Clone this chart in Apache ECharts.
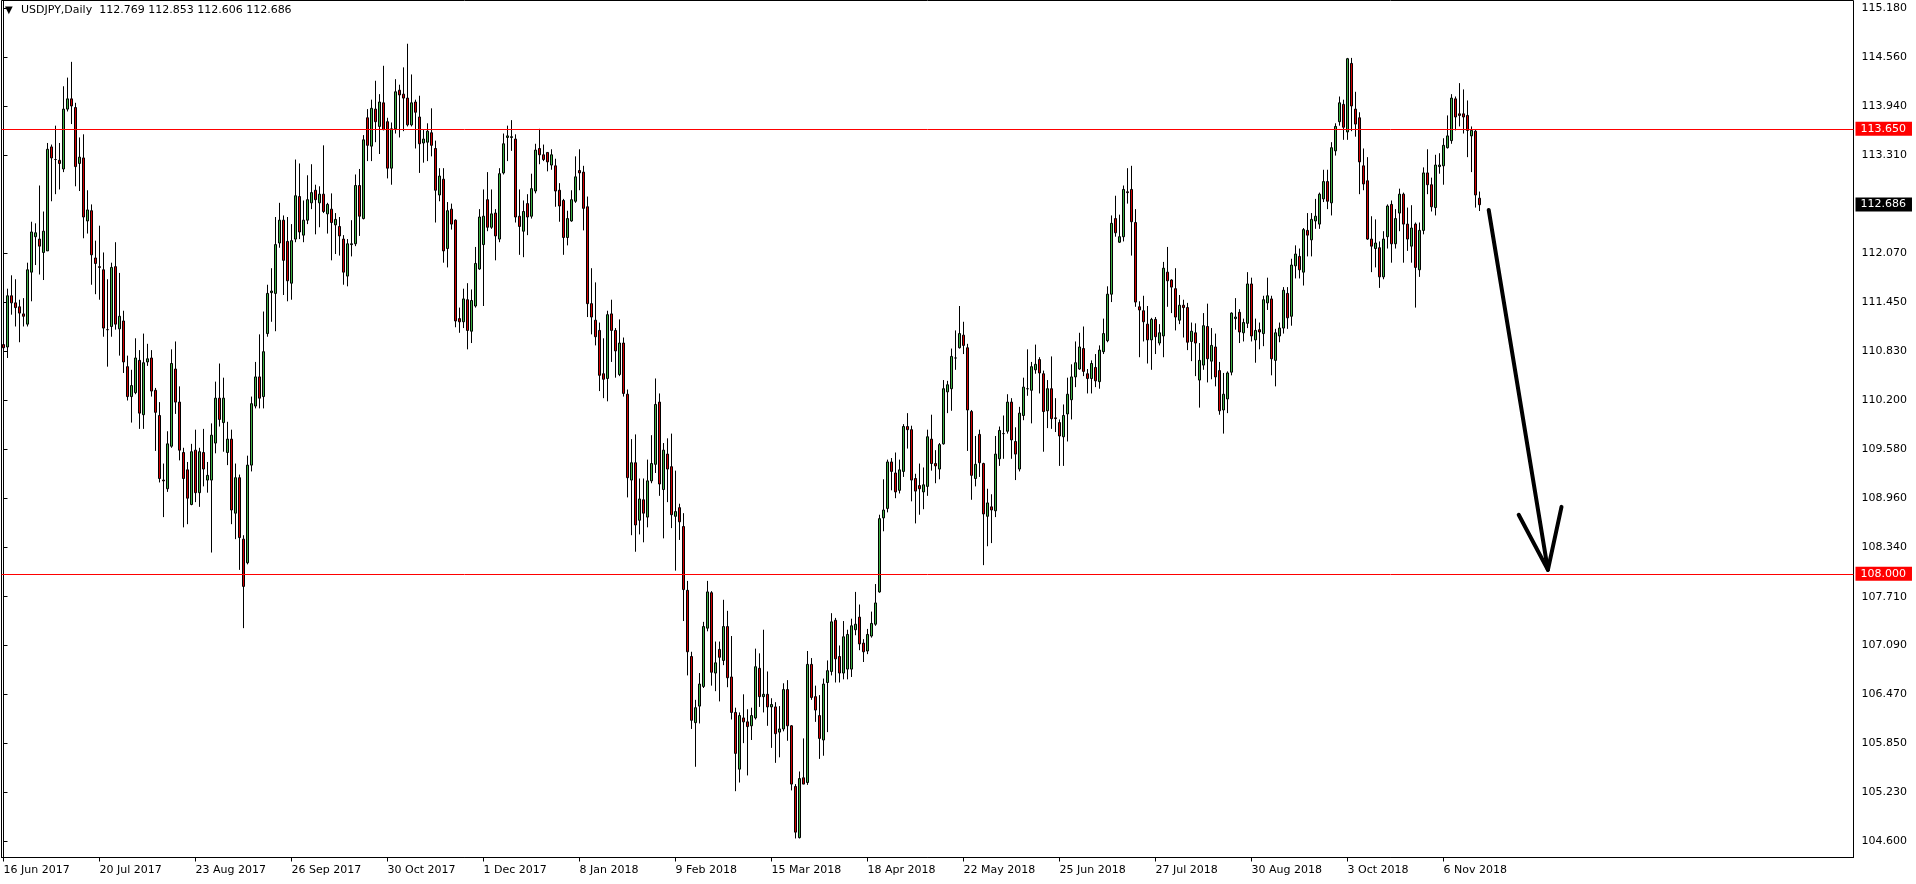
<!DOCTYPE html>
<html><head><meta charset="utf-8">
<script src="https://cdn.jsdelivr.net/npm/echarts@6/dist/echarts.min.js"></script>
<style>html,body{margin:0;padding:0;background:#fff;}#chart{width:1916px;height:884px;}</style>
</head><body><div id="chart"></div>
<script>
const symbolName = 'USDJPY,Daily';
const lastQuote = [112.769, 112.853, 112.606, 112.686];
const dateLabels = ['16 Jun 2017','20 Jul 2017','23 Aug 2017','26 Sep 2017','30 Oct 2017','1 Dec 2017','8 Jan 2018','9 Feb 2018','15 Mar 2018','18 Apr 2018','22 May 2018','25 Jun 2018','27 Jul 2018','30 Aug 2018','3 Oct 2018','6 Nov 2018'];
const barsPerLabel = 24;
const totalSlots = 463;
const priceTicks = [104.60,105.23,105.85,106.47,107.09,107.71,108.34,108.96,109.58,110.20,110.83,111.45,112.07,113.31,113.94,114.56,115.18];
const priceMin = 104.398, priceMax = 115.279;
const levelLines = [113.650, 108.000];
const arrowShaft = [[371.3,112.62],[386.1,108.05]];
const arrowHead = [[378.8,108.75],[386.1,108.05],[389.5,108.85]];

const openPrices = [
110.91,110.88,111.53,111.44,111.39,111.30,111.17,111.83,112.28,112.25,
112.08,112.10,113.42,113.26,113.25,113.14,113.90,114.03,113.92,113.21,
113.28,112.48,112.61,112.01,111.90,111.86,111.10,111.14,111.90,111.11,
111.21,110.63,110.25,110.30,110.71,110.02,110.69,110.74,110.33,110.01,
109.19,109.08,109.62,110.60,110.18,109.54,109.32,108.88,109.57,109.03,
109.54,109.19,109.19,109.66,110.23,109.92,109.54,109.71,108.77,109.22,
108.44,108.14,109.38,110.13,110.50,110.25,111.05,111.57,111.56,112.20,
112.49,112.22,111.69,112.25,112.79,112.30,112.49,112.71,112.87,112.71,
112.82,112.57,112.63,112.43,112.41,112.25,111.78,112.18,112.19,112.93,
112.51,113.79,113.43,113.90,113.68,113.98,113.74,113.15,113.65,114.14,
114.09,114.04,113.70,113.99,113.80,113.47,113.48,113.60,113.40,112.81,
113.01,112.13,112.63,112.49,111.24,111.20,111.48,111.08,111.40,111.87,
112.18,112.75,112.40,112.58,112.25,113.09,113.54,113.54,113.52,112.54,
112.35,112.70,112.54,112.86,113.40,113.32,113.35,113.19,113.18,112.87,
112.74,112.27,112.48,112.73,113.12,113.10,112.66,111.43,111.22,111.09,
110.54,110.48,111.30,111.09,110.53,110.93,110.28,109.19,109.41,108.68,
108.94,108.72,109.18,109.39,110.18,109.07,109.52,109.36,108.73,108.84,
108.60,107.79,106.95,106.11,106.32,106.57,107.31,107.76,106.74,107.04,
106.90,107.33,106.69,106.24,105.52,106.17,106.12,106.07,106.17,106.80,
106.44,106.47,106.31,106.31,105.99,106.03,106.53,106.07,105.30,104.65,
105.41,105.35,106.85,106.44,106.20,105.89,106.62,106.76,107.41,106.95,
106.74,106.79,106.79,107.29,107.45,107.12,107.02,107.21,107.36,107.77,
108.71,108.83,109.42,109.28,109.06,109.30,109.87,109.83,109.21,109.12,
109.04,109.11,109.71,109.40,109.33,109.65,110.31,110.35,110.74,110.87,
111.03,110.87,110.06,109.21,109.77,109.40,108.73,108.85,108.80,109.46,
109.78,109.81,110.18,109.68,109.33,110.01,110.35,110.33,110.59,110.72,
110.54,110.07,110.35,109.98,109.92,109.74,110.03,110.21,110.50,110.60,
110.86,110.54,110.48,110.62,110.44,110.82,110.96,111.55,112.51,112.21,
112.28,112.85,112.88,112.46,111.39,111.34,111.17,110.97,111.23,110.93,
111.02,111.83,111.73,111.62,111.22,111.41,111.38,110.95,111.06,110.46,
110.65,111.14,110.70,110.88,110.58,110.08,110.22,110.56,111.24,111.32,
111.06,111.18,111.68,110.97,111.10,111.05,111.44,111.49,110.71,111.02,
111.12,111.56,111.27,111.91,112.03,111.83,112.36,112.24,112.48,112.44,
112.76,112.98,112.71,113.37,113.74,113.96,113.61,114.48,113.90,113.79,
113.18,112.99,112.25,112.13,112.14,111.77,112.28,112.69,112.19,112.58,
112.82,112.44,112.16,112.44,111.86,112.36,113.09,112.94,112.65,113.17,
113.18,113.41,113.50,114.03,113.84,113.84,113.82,113.56,113.62,112.769];

const highPrices = [
111.42,111.62,111.79,111.74,111.48,111.50,111.95,112.47,112.45,112.93,
112.60,113.47,113.45,113.69,113.47,114.19,114.30,114.50,113.98,113.54,
113.58,112.87,112.69,112.23,112.42,112.08,111.74,111.95,112.21,111.82,
111.34,110.77,110.59,110.99,110.84,111.05,110.92,110.84,110.36,110.18,
109.40,109.81,110.85,110.95,110.38,109.60,109.42,109.65,109.83,109.60,
109.84,109.42,109.91,110.44,110.67,110.49,109.93,109.83,109.40,109.26,
108.49,109.50,110.25,110.69,111.04,111.33,111.67,111.88,112.53,112.71,
112.55,112.53,112.44,113.26,113.21,112.74,113.06,113.20,112.94,112.92,
113.44,112.71,112.83,112.58,112.53,112.30,112.25,112.49,113.07,113.14,
113.57,113.90,114.02,114.26,114.09,114.45,113.79,113.73,114.28,114.21,
114.43,114.73,114.34,114.02,114.07,113.64,113.72,113.91,113.50,113.15,
113.15,112.72,112.70,112.50,111.38,111.62,111.69,111.61,112.15,112.63,
112.88,113.10,112.88,112.63,113.15,113.59,113.69,113.76,113.58,112.88,
112.74,112.82,113.08,113.46,113.65,113.45,113.35,113.39,113.27,112.96,
112.76,112.61,112.87,113.30,113.39,113.18,112.79,111.88,111.70,111.19,
110.99,111.34,111.48,111.12,111.23,111.00,110.34,109.71,109.77,109.21,
109.21,109.45,109.76,110.48,110.29,109.66,109.72,109.78,109.31,108.89,
108.77,107.91,107.01,106.40,106.74,107.39,107.91,107.78,107.14,107.14,
107.67,107.53,107.21,106.30,106.24,106.47,106.28,106.30,107.05,106.99,
107.29,106.76,106.42,106.37,106.32,106.61,106.65,106.08,105.33,105.49,
105.91,107.02,106.93,106.58,106.46,106.67,106.90,107.50,107.44,107.09,
107.40,107.29,107.43,107.77,107.61,107.17,107.30,107.52,107.87,108.75,
109.20,109.45,109.47,109.54,109.45,109.90,110.04,109.88,109.27,109.40,
109.35,109.83,110.02,109.57,109.66,110.46,110.45,110.86,111.09,111.40,
111.20,110.92,110.08,109.75,109.83,109.41,109.08,109.01,109.75,109.87,
110.01,110.28,110.23,109.86,110.12,110.49,110.85,110.69,110.91,110.75,
110.58,110.46,110.76,110.23,109.96,110.15,110.49,110.66,110.95,111.06,
111.14,110.60,110.71,110.79,110.90,111.24,111.65,112.55,112.80,112.56,
112.93,113.15,113.18,112.63,111.46,111.53,111.40,111.25,111.26,111.17,
111.96,112.15,111.74,111.88,111.54,111.48,111.44,111.19,111.18,110.93,
111.31,111.43,111.12,111.05,110.69,110.55,110.57,111.32,111.50,111.36,
111.24,111.83,111.76,111.24,111.19,111.53,111.76,111.53,111.11,111.19,
111.64,111.64,112.00,112.17,112.13,112.39,112.58,112.58,112.76,112.84,
113.13,113.13,113.48,113.72,114.06,114.02,114.55,114.55,114.12,113.86,
113.40,113.29,112.54,112.50,112.22,112.35,112.69,112.74,112.63,112.89,
112.84,112.65,112.68,112.46,112.46,113.16,113.39,113.03,113.32,113.34,
113.53,113.82,114.09,114.06,114.23,114.15,114.01,113.68,113.64,112.853];

const lowPrices = [
110.64,110.74,111.29,111.14,110.94,111.14,111.14,111.46,111.92,111.80,
111.73,112.10,112.73,112.82,112.88,113.10,113.87,113.71,112.92,112.86,
112.26,112.32,111.67,111.55,111.48,111.01,110.63,111.01,111.10,110.77,
110.55,110.20,109.92,110.28,109.84,109.84,110.64,110.25,109.56,109.16,
108.72,109.04,109.60,110.03,109.44,108.59,108.63,108.87,108.91,108.85,
109.11,109.03,108.27,109.53,109.87,109.55,109.38,108.63,108.44,108.05,
107.31,108.12,109.30,110.10,110.10,110.10,111.01,111.20,111.08,112.14,
111.54,111.46,111.48,112.21,112.25,112.21,112.44,112.63,112.31,112.40,
112.58,112.32,111.98,112.06,112.04,111.67,111.65,112.03,112.16,112.29,
112.50,113.24,113.24,113.48,113.33,113.63,113.02,112.94,113.59,113.54,
113.62,113.68,113.68,113.40,113.09,113.22,113.24,113.30,112.46,112.73,
111.95,111.89,112.37,111.13,111.06,111.12,110.85,110.93,111.38,111.86,
111.40,112.35,112.38,111.98,112.21,113.07,113.24,113.37,112.46,112.05,
112.02,112.30,112.51,112.83,113.20,113.24,113.11,113.13,112.66,112.47,
112.05,112.17,112.47,112.71,112.87,112.36,111.26,111.04,110.90,110.32,
110.23,110.19,110.69,110.49,110.51,110.25,108.97,108.49,108.28,108.50,
108.40,108.59,109.15,109.28,108.99,108.45,108.91,108.58,108.04,108.43,
107.40,106.71,106.03,105.55,106.10,106.55,107.27,106.58,106.51,106.38,
106.84,106.56,106.15,105.24,105.35,105.85,105.44,105.89,106.15,106.31,
106.24,106.07,105.79,105.60,105.67,106.00,105.88,105.25,104.64,104.64,
105.33,105.32,106.40,106.12,105.65,105.69,105.99,106.71,106.62,106.62,
106.66,106.66,106.69,107.22,107.03,106.88,106.98,107.19,107.34,107.76,
108.54,108.78,109.06,108.96,109.02,109.23,109.59,108.92,108.64,108.75,
108.82,108.99,109.31,109.15,109.20,109.64,110.04,110.07,110.59,110.86,
110.79,109.56,108.94,109.11,109.23,108.11,108.35,108.39,108.72,109.37,
109.46,109.78,109.46,109.19,109.30,109.95,110.26,109.91,110.54,110.29,
109.55,109.85,109.84,109.80,109.37,109.37,109.68,109.96,110.37,110.59,
110.51,110.29,110.29,110.37,110.35,110.79,110.94,111.45,112.28,112.20,
112.22,112.70,112.04,111.39,110.75,110.95,110.67,110.59,110.79,110.90,
110.75,111.39,111.31,111.09,111.17,111.00,110.84,110.70,110.51,110.11,
110.59,110.43,110.47,110.38,110.02,109.78,110.04,110.52,111.10,110.93,
110.95,111.12,110.95,110.68,110.85,110.89,111.35,110.52,110.38,110.94,
111.05,111.11,111.15,111.75,111.75,111.66,112.03,112.03,112.38,112.38,
112.72,112.63,112.55,113.31,113.69,113.51,113.51,113.62,113.55,112.82,
112.87,112.24,111.83,111.89,111.63,111.74,112.13,111.95,112.13,112.35,
111.95,112.10,111.95,111.38,111.77,112.31,112.82,112.60,112.55,113.08,
112.94,113.40,113.46,113.63,113.68,113.59,113.29,113.10,112.65,112.606];

const closePrices = [
110.87,111.53,111.44,111.38,111.31,111.27,111.86,112.34,112.33,112.16,
112.35,113.39,113.28,113.26,113.21,113.90,114.03,113.94,113.17,113.29,
112.53,112.62,112.05,111.94,111.89,111.12,111.10,111.89,111.17,111.27,
110.69,110.25,110.39,110.74,110.04,110.68,110.73,110.32,110.05,109.21,
109.18,109.65,110.67,110.18,109.57,109.21,108.96,109.55,109.03,109.55,
109.33,109.25,109.76,110.23,109.96,110.23,109.71,108.81,109.22,108.46,
107.84,109.38,110.16,110.50,110.23,110.82,111.56,111.59,112.18,112.49,
111.98,111.72,112.23,112.80,112.34,112.49,112.75,112.84,112.75,112.82,
112.60,112.69,112.46,112.50,112.29,111.83,112.19,112.19,112.93,112.54,
113.51,113.44,113.91,113.74,113.99,113.64,113.15,113.65,114.12,114.08,
114.04,113.70,113.98,113.86,113.46,113.52,113.62,113.44,112.87,113.05,
112.10,112.61,112.44,111.21,111.20,111.49,111.09,111.47,111.94,112.53,
112.54,112.40,112.57,112.29,113.08,113.46,113.56,113.55,112.53,112.41,
112.60,112.53,112.89,113.38,113.32,113.26,113.23,113.32,112.86,112.67,
112.27,112.51,112.75,113.04,113.09,112.64,111.43,111.26,111.01,110.52,
110.47,111.29,111.09,110.83,110.93,110.29,109.22,109.41,108.62,108.95,
108.77,109.18,109.40,110.15,109.14,109.57,109.33,108.75,108.79,108.66,
107.80,107.01,106.14,106.30,106.60,107.33,107.77,106.75,106.87,106.94,
107.33,106.68,106.24,105.72,106.20,106.12,106.06,106.20,106.82,106.44,
106.47,106.31,106.34,105.97,106.03,106.53,106.07,105.33,104.72,105.40,
105.33,106.85,106.43,106.27,105.91,106.60,106.77,107.39,106.92,106.74,
107.20,107.23,107.34,107.36,107.11,107.01,107.23,107.37,107.63,108.70,
108.81,109.42,109.30,109.04,109.32,109.87,109.83,109.19,109.05,109.08,
109.13,109.74,109.40,109.37,109.64,110.35,110.40,110.76,110.74,111.05,
110.90,110.08,109.25,109.39,109.41,108.76,108.90,108.81,109.52,109.82,
109.78,110.18,109.70,109.52,110.04,110.37,110.35,110.63,110.66,110.55,
110.06,110.35,109.97,109.97,109.75,110.01,110.28,110.50,110.68,110.88,
110.57,110.48,110.67,110.45,110.84,111.05,111.55,112.45,112.33,112.28,
112.88,112.84,112.47,111.45,111.35,111.20,110.97,111.23,111.01,111.06,
111.88,111.72,111.64,111.26,111.41,111.38,110.94,111.08,110.93,110.71,
111.15,110.73,110.90,110.50,110.07,110.28,110.55,111.31,111.26,111.07,
111.19,111.68,111.02,111.09,111.07,111.48,111.53,110.73,111.06,111.12,
111.60,111.25,111.92,112.06,111.86,112.37,112.30,112.50,112.54,112.82,
112.98,112.73,113.41,113.68,113.98,113.67,114.54,113.94,113.71,113.23,
112.95,112.25,112.16,112.20,111.77,112.25,112.67,112.19,112.51,112.82,
112.44,112.25,112.39,111.89,112.36,113.09,112.94,112.66,113.19,113.19,
113.44,113.56,114.04,113.80,113.82,113.80,113.63,113.63,112.81,112.686];

const FONT = '"DejaVu Sans", "Liberation Sans", sans-serif';
const slots = [];
for (let i = 0; i < totalSlots; i++) slots.push(String(i));
const candles = openPrices.map((o, i) => [o, closePrices[i], lowPrices[i], highPrices[i]]);
const isLabelSlot = (idx) => idx % barsPerLabel === 0 && idx / barsPerLabel < dateLabels.length;
const lastClose = closePrices[closePrices.length - 1];

const boxLabel = (bg, textFn) => ({show: true, position: 'end', distance: 2, formatter: textFn, color: '#fff', backgroundColor: bg, padding: [2, 6, 1, 5], fontFamily: FONT, fontSize: 11});

const chart = echarts.init(document.getElementById('chart'), null, {renderer: 'canvas'});
chart.setOption({
  animation: false,
  backgroundColor: '#ffffff',
  grid: {left: 1.5, top: 0.5, width: totalSlots * 4, height: 857, show: true, borderColor: '#000', borderWidth: 1, backgroundColor: 'transparent', outerBoundsMode: 'none'},
  xAxis: [{
    type: 'category', data: slots, boundaryGap: true,
    axisLine: {show: true, lineStyle: {color: '#000', width: 1}},
    axisTick: {show: true, alignWithLabel: true, interval: (i) => isLabelSlot(i), length: 4, lineStyle: {color: '#000'}},
    axisLabel: {show: true, interval: (i) => isLabelSlot(i), formatter: (v) => dateLabels[(+v) / barsPerLabel] || '', align: 'left', color: '#000', fontFamily: FONT, fontSize: 11, margin: 7},
    splitLine: {show: false}
  }, {
    type: 'value', min: -0.5, max: totalSlots - 0.5, show: false
  }],
  yAxis: {
    type: 'value', position: 'right', min: priceMin, max: priceMax, scale: true,
    axisLine: {show: true, lineStyle: {color: '#000', width: 1}},
    axisTick: {show: true, length: 4, customValues: priceTicks, lineStyle: {color: '#000'}},
    axisLabel: {show: true, customValues: priceTicks, formatter: (v) => v.toFixed(3), color: '#000', fontFamily: FONT, fontSize: 11, margin: 8},
    splitLine: {show: false}
  },
  graphic: [
    {type: 'text', left: 5, top: 5, z: 100, style: {text: '\u25BC', font: '10px ' + FONT, fill: '#000'}},
    {type: 'text', left: 21, top: 5, z: 100, style: {text: symbolName + '  ' + lastQuote.map(v => v.toFixed(3)).join(' '), font: '11px ' + FONT, fill: '#000'}}
  ],
  series: [{
    type: 'candlestick', data: candles, barWidth: 3,
    itemStyle: {color: '#3cb043', color0: '#d20000', borderColor: '#000', borderColor0: '#000', borderWidth: 1},
    markLine: {
      silent: true, symbol: 'none', animation: false,
      lineStyle: {color: '#ff0000', width: 1, type: 'solid'},
      data: levelLines.map(v => ({yAxis: v, label: boxLabel('#ff0000', () => v.toFixed(3))}))
    }
  }, {
    type: 'line', data: [], silent: true,
    markLine: {
      silent: true, symbol: 'none', animation: false,
      lineStyle: {color: 'rgba(0,0,0,0)', width: 0, type: 'solid'},
      data: [{yAxis: lastClose, label: boxLabel('#000000', () => lastClose.toFixed(3))}]
    }
  }, {
    type: 'line', xAxisIndex: 1, data: arrowShaft, symbol: 'none', silent: true,
    lineStyle: {color: '#000', width: 4, cap: 'round'}
  }, {
    type: 'line', xAxisIndex: 1, data: arrowHead, symbol: 'none', silent: true,
    lineStyle: {color: '#000', width: 4, cap: 'round', join: 'round'}
  }]
});
</script>
</body></html>
